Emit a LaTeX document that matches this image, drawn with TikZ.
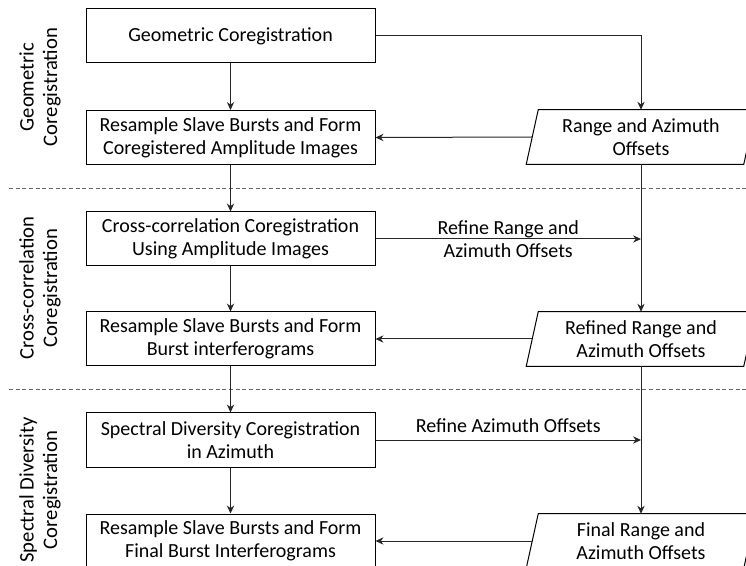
\documentclass[tikz,border=0pt]{standalone}
\usepackage{fontspec}
\setmainfont{Carlito}
\usetikzlibrary{arrows.meta}
\begin{document}
\begin{tikzpicture}[x=0.75pt,y=-0.75pt,
  font=\fontsize{15}{17.5}\selectfont,
  proc/.style={draw=black, line width=0.75pt, minimum width=216.75pt, minimum height=40.5pt, align=center, inner sep=0pt},
  iodata/.style={minimum width=162.75pt, minimum height=40.5pt, align=center, inner sep=0pt},
  arr/.style={draw=black!85, line width=0.75pt, -{Stealth[length=6pt,width=5.5pt,inset=2pt]}},
  sep/.style={draw=black!60, line width=0.75pt, dash pattern=on 3pt off 2pt},
  side/.style={rotate=90, align=center, font=\fontsize{15.5}{17.5}\selectfont}]
\useasboundingbox (0,0) rectangle (746,566);
% process boxes
\node[proc] (b1) at (230.5,36) {Geometric Coregistration};
\node[proc] (b2) at (230.5,137.5) {Resample Slave Bursts and Form\\Coregistered Amplitude Images};
\node[proc] (b3) at (230.5,239) {Cross-correlation Coregistration\\Using Amplitude Images};
\node[proc] (b4) at (230.5,339) {Resample Slave Bursts and Form\\Burst interferograms};
\node[proc] (b5) at (230.5,440) {Spectral Diversity Coregistration\\in Azimuth};
\node[proc] (b6) at (230.5,541) {Resample Slave Bursts and Form\\Final Burst Interferograms};
% data parallelograms
\foreach \n/\yy/\t in {p1/137/{Range and Azimuth\\Offsets}, p2/339/{Refined Range and\\Azimuth Offsets}, p3/541/{Final Range and\\Azimuth Offsets}}{
  \node[iodata] (\n) at (641,\yy) {\t};
  \draw[line width=0.75pt] ([xshift=4.5pt]\n.north west) -- ([xshift=4.5pt]\n.north east) -- ([xshift=-4.5pt]\n.south east) -- ([xshift=-4.5pt]\n.south west) -- cycle;
}
% section labels
\node[side] (s1) at (40,87) {Geometric\\Coregistration};
\node[side] (s2) at (40,288) {Cross-correlation\\Coregistration};
\node[side] (s3) at (40,490) {Spectral Diversity\\Coregistration};
% separators
\coordinate (d1a) at (9,188.5); \coordinate (d1b) at (746,188.5);
\coordinate (d2a) at (9,390); \coordinate (d2b) at (746,390);
\draw[sep] (d1a) -- (d1b);
\draw[sep] (d2a) -- (d2b);
% vertical flow
\draw[arr] (b1) -- (b2);
\draw[arr] (b2) -- (b3);
\draw[arr] (b3) -- (b4);
\draw[arr] (b4) -- (b5);
\draw[arr] (b5) -- (b6);
% data flow
\draw[arr] (b1.east) -| (p1.north);
\draw[arr] (p1.west) -- (b2.east);
\draw[arr] (p1.south) -- (p2.north);
\draw[arr] (p2.west) -- (b4.east);
\draw[arr] (p2.south) -- (p3.north);
\draw[arr] (p3.west) -- (b6.east);
\draw[arr] (b3.east) -- (b3.east -| p1.south) node[midway, align=center] {Refine Range and\\Azimuth Offsets};
\draw[arr] (b5.east) -- (b5.east -| p2.south) node[midway, above=2pt] {Refine Azimuth Offsets};
\end{tikzpicture}
\end{document}
